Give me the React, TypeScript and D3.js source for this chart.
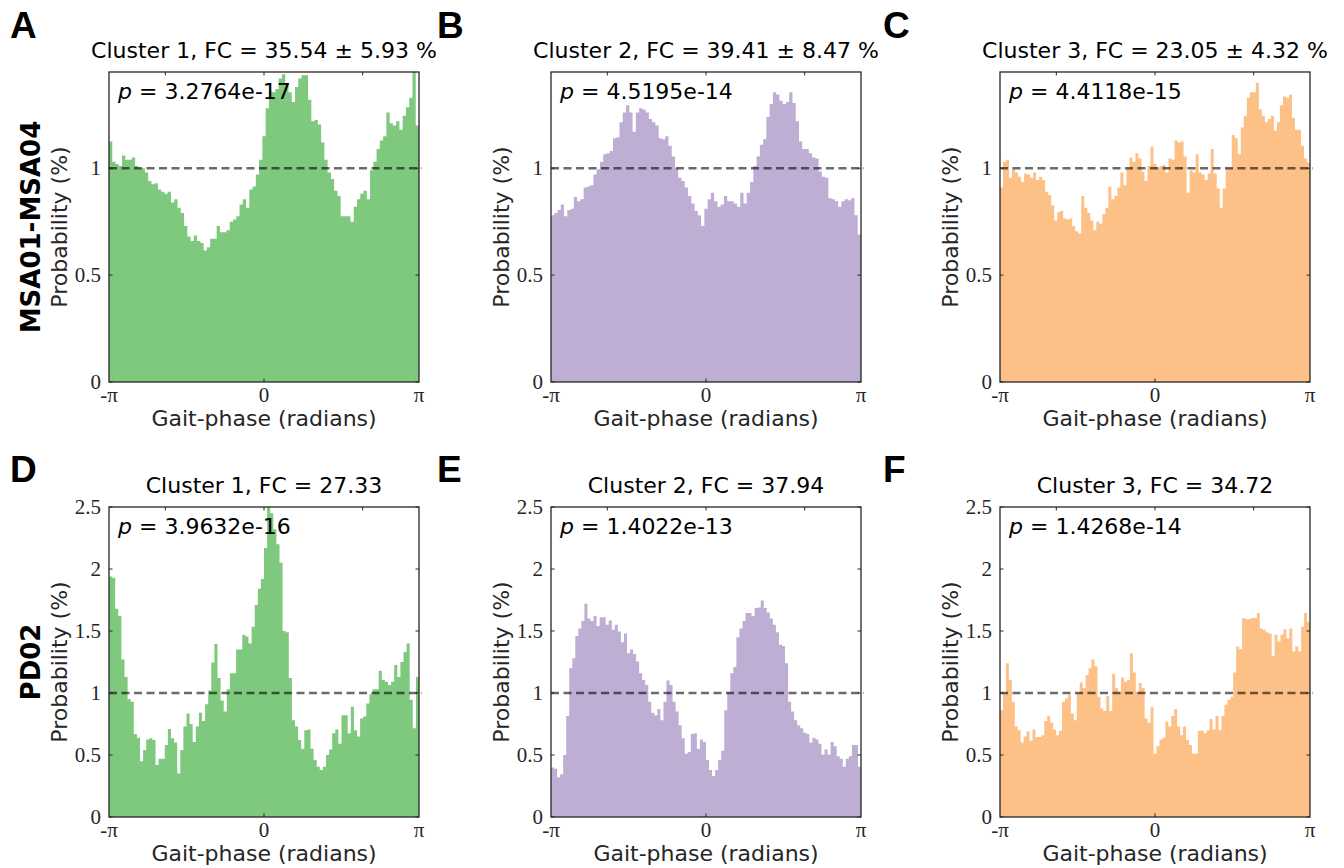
import React, { useEffect, useRef } from 'react';
import * as d3 from 'd3';

// bar heights (probability %), left (-pi) to right (pi)
const dataA = [1.125, 1.03, 1.02, 1.01, 1.06, 1.04, 1.04, 1.05, 1.01, 1.0, 1.0, 0.98, 0.94, 0.925, 0.93, 0.9, 0.89, 0.88, 0.89, 0.84, 0.855, 0.815, 0.79, 0.73, 0.68, 0.66, 0.685, 0.66, 0.65, 0.615, 0.63, 0.67, 0.67, 0.73, 0.7, 0.7, 0.71, 0.75, 0.76, 0.775, 0.83, 0.855, 0.815, 0.9, 0.915, 0.97, 1.04, 1.15, 1.28, 1.36, 1.355, 1.37, 1.42, 1.44, 1.395, 1.355, 1.31, 1.38, 1.42, 1.435, 1.435, 1.32, 1.22, 1.225, 1.205, 1.12, 1.04, 0.98, 0.95, 0.895, 0.87, 0.775, 0.775, 0.775, 0.75, 0.82, 0.855, 0.88, 0.895, 0.855, 0.99, 1.03, 1.09, 1.13, 1.15, 1.26, 1.21, 1.2, 1.22, 1.18, 1.245, 1.285, 1.33, 1.45, 1.2];
const dataB = [0.78, 0.79, 0.805, 0.83, 0.775, 0.805, 0.81, 0.865, 0.845, 0.855, 0.91, 0.915, 0.92, 0.97, 0.995, 1.03, 1.065, 1.07, 1.08, 1.14, 1.145, 1.215, 1.26, 1.295, 1.26, 1.17, 1.26, 1.28, 1.275, 1.26, 1.23, 1.215, 1.2, 1.14, 1.135, 1.15, 1.105, 1.055, 1.0, 0.955, 0.94, 0.91, 0.87, 0.835, 0.8, 0.78, 0.73, 0.81, 0.855, 0.885, 0.845, 0.82, 0.83, 0.87, 0.845, 0.845, 0.835, 0.82, 0.885, 0.835, 0.885, 0.935, 1.01, 1.055, 1.11, 1.135, 1.24, 1.3, 1.355, 1.345, 1.315, 1.3, 1.31, 1.355, 1.305, 1.22, 1.125, 1.09, 1.09, 1.07, 1.05, 1.045, 0.985, 0.96, 0.955, 0.86, 0.855, 0.845, 0.82, 0.845, 0.855, 0.85, 0.86, 0.78, 0.69];
const dataC = [0.91, 1.03, 1.04, 0.955, 0.995, 0.98, 0.96, 0.935, 0.975, 0.97, 0.955, 0.98, 0.945, 0.96, 0.945, 0.89, 0.875, 0.825, 0.755, 0.795, 0.8, 0.765, 0.76, 0.765, 0.73, 0.705, 0.695, 0.87, 0.815, 0.79, 0.755, 0.71, 0.75, 0.74, 0.785, 0.815, 0.915, 0.855, 0.87, 0.91, 0.98, 0.92, 1.0, 1.05, 1.03, 1.07, 1.045, 0.985, 0.94, 1.01, 1.1, 1.02, 1.005, 1.01, 1.015, 0.98, 1.045, 1.04, 1.13, 1.12, 1.125, 1.055, 0.885, 0.99, 0.98, 1.065, 0.98, 0.97, 0.945, 0.975, 1.09, 0.975, 0.905, 0.815, 0.905, 1.0, 1.0, 1.155, 1.14, 1.065, 1.19, 1.245, 1.33, 1.355, 1.355, 1.4, 1.275, 1.245, 1.215, 1.23, 1.245, 1.175, 1.215, 1.295, 1.335, 1.33, 1.345, 1.235, 1.18, 1.18, 1.105, 1.045, 1.025];
const dataD = [1.94, 1.93, 1.68, 1.62, 1.27, 1.13, 0.95, 0.93, 0.67, 0.64, 0.45, 0.54, 0.625, 0.635, 0.62, 0.42, 0.47, 0.47, 0.58, 0.71, 0.635, 0.6, 0.35, 0.54, 0.73, 0.835, 0.75, 0.605, 0.73, 0.84, 0.775, 0.91, 1.02, 1.245, 1.395, 1.12, 0.94, 0.85, 1.03, 1.16, 1.16, 1.35, 1.35, 1.47, 1.455, 1.4, 1.535, 1.71, 1.84, 1.92, 2.17, 2.55, 2.45, 2.32, 2.2, 2.05, 1.5, 1.49, 1.12, 0.78, 0.73, 0.62, 0.55, 0.7, 0.705, 0.55, 0.46, 0.405, 0.38, 0.405, 0.5, 0.545, 0.675, 0.705, 0.59, 0.82, 0.82, 0.675, 0.89, 0.7, 0.65, 0.795, 0.81, 0.915, 0.99, 1.03, 1.03, 1.18, 1.105, 1.09, 1.065, 1.09, 1.225, 1.13, 1.25, 1.33, 1.4, 0.945, 0.715, 1.13];
const dataE = [0.4, 0.39, 0.32, 0.345, 0.5, 0.815, 1.2, 1.28, 1.46, 1.52, 1.58, 1.72, 1.6, 1.58, 1.62, 1.54, 1.61, 1.61, 1.55, 1.585, 1.51, 1.55, 1.495, 1.41, 1.48, 1.32, 1.35, 1.315, 1.255, 1.16, 1.105, 1.065, 0.93, 0.84, 0.82, 0.87, 0.78, 0.93, 1.1, 1.065, 0.93, 0.85, 0.74, 0.635, 0.51, 0.525, 0.67, 0.675, 0.55, 0.625, 0.605, 0.46, 0.38, 0.33, 0.38, 0.46, 0.535, 0.86, 1.01, 1.16, 1.21, 1.45, 1.52, 1.58, 1.645, 1.645, 1.62, 1.685, 1.69, 1.745, 1.685, 1.65, 1.6, 1.55, 1.49, 1.39, 1.38, 1.24, 0.93, 0.85, 0.78, 0.74, 0.715, 0.68, 0.67, 0.6, 0.64, 0.625, 0.59, 0.505, 0.545, 0.505, 0.605, 0.57, 0.49, 0.47, 0.405, 0.47, 0.49, 0.58, 0.58, 0.405];
const dataF = [0.86, 1.0, 1.24, 1.105, 0.93, 0.73, 0.7, 0.6, 0.65, 0.69, 0.615, 0.705, 0.645, 0.645, 0.66, 0.775, 0.815, 0.76, 0.705, 0.66, 0.695, 0.93, 0.955, 0.985, 0.835, 0.78, 1.0, 1.085, 1.04, 1.145, 1.2, 1.27, 1.215, 0.97, 0.875, 0.855, 0.975, 0.855, 1.155, 1.04, 1.01, 1.125, 1.09, 1.105, 1.32, 1.165, 1.01, 1.08, 1.04, 0.795, 0.76, 0.885, 0.51, 0.57, 0.625, 0.64, 0.77, 0.73, 0.815, 0.87, 0.73, 0.66, 0.73, 0.62, 0.58, 0.51, 0.51, 0.695, 0.695, 0.675, 0.7, 0.79, 0.705, 0.815, 0.7, 0.815, 0.905, 0.945, 0.97, 1.165, 1.375, 1.355, 1.605, 1.595, 1.595, 1.605, 1.605, 1.645, 1.52, 1.51, 1.49, 1.48, 1.3, 1.47, 1.415, 1.47, 1.515, 1.44, 1.52, 1.335, 1.375, 1.335, 1.535, 1.645, 1.575];

const titles = [
  'Cluster 1, FC = 35.54 ± 5.93 %',
  'Cluster 2, FC = 39.41 ± 8.47 %',
  'Cluster 3, FC = 23.05 ± 4.32 %',
  'Cluster 1, FC = 27.33',
  'Cluster 2, FC = 37.94',
  'Cluster 3, FC = 34.72',
];
const pValues = ['3.2764e-17', '4.5195e-14', '4.4118e-15', '3.9632e-16', '1.4022e-13', '1.4268e-14'];
const letters = ['A', 'B', 'C', 'D', 'E', 'F'];
const rowLabels = ['MSA01-MSA04', 'PD02'];
const clusterColors = ['#7fc97f', '#beaed4', '#fdc086'];
const yMaxByRow = [1.45, 2.5];
const yTicksByRow = [[0, 0.5, 1], [0, 0.5, 1, 1.5, 2, 2.5]];
const xTickLabels = ['-π', '0', 'π'];

const SANS = 'DejaVu Sans, Verdana, sans-serif';
const SERIF = 'Liberation Serif, Times New Roman, serif';

const App = () => {
  const ref = useRef(null);

  useEffect(() => {
    const svg = d3.select(ref.current);
    svg.selectAll('*').remove();

    const W = 310, H = 310;
    const colLeft = [109, 551, 1000];
    const rowTop = [72, 507];
    const allData = [dataA, dataB, dataC, dataD, dataE, dataF];

    allData.forEach((data, k) => {
      const row = Math.floor(k / 3), col = k % 3;
      const left = colLeft[col], top = rowTop[row];
      const g = svg.append('g').attr('transform', `translate(${left},${top})`);

      const x = d3.scaleLinear().domain([-Math.PI, Math.PI]).range([0, W]);
      const y = d3.scaleLinear().domain([0, yMaxByRow[row]]).range([H, 0]);
      const step = (2 * Math.PI) / data.length;

      const clipId = `clip-${k}`;
      g.append('clipPath').attr('id', clipId)
        .append('rect').attr('width', W).attr('height', H);

      // histogram as one stepped area (no seams between bins)
      const bins = data.map((v, i) => ({ x0: -Math.PI + i * step, v }));
      bins.push({ x0: Math.PI, v: data[data.length - 1] });
      const area = d3.area()
        .curve(d3.curveStepAfter)
        .x(d => x(d.x0))
        .y0(y(0))
        .y1(d => y(d.v));
      g.append('path')
        .attr('clip-path', `url(#${clipId})`)
        .attr('d', area(bins))
        .attr('fill', clusterColors[col]);

      // chance level
      g.append('line')
        .attr('x1', 0).attr('x2', W + 3)
        .attr('y1', y(1)).attr('y2', y(1))
        .attr('stroke', '#000').attr('stroke-opacity', 0.58)
        .attr('stroke-width', 2.6).attr('stroke-dasharray', '8 4.5');

      // box
      g.append('rect').attr('width', W).attr('height', H)
        .attr('fill', 'none').attr('stroke', '#262626').attr('stroke-width', 1.3);

      // inward ticks
      const tl = 3.5;
      yTicksByRow[row].forEach(t => {
        g.append('line').attr('x1', 0).attr('x2', tl).attr('y1', y(t)).attr('y2', y(t)).attr('stroke', '#262626');
        g.append('line').attr('x1', W - tl).attr('x2', W).attr('y1', y(t)).attr('y2', y(t)).attr('stroke', '#262626');
        g.append('text')
          .attr('x', -8).attr('y', y(t) + 6.5)
          .attr('text-anchor', 'end')
          .style('font-family', SERIF).style('font-size', '21px').attr('fill', '#262626')
          .text(t === 0 ? '0' : String(t));
      });
      [-2, 0, 2].forEach(t => {
        g.append('line').attr('x1', x(t)).attr('x2', x(t)).attr('y1', 0).attr('y2', tl).attr('stroke', '#262626');
      });
      g.append('line').attr('x1', x(0)).attr('x2', x(0)).attr('y1', H - tl).attr('y2', H).attr('stroke', '#262626');

      [-Math.PI, 0, Math.PI].forEach((t, i) => {
        g.append('text')
          .attr('x', x(t)).attr('y', H + 20)
          .attr('text-anchor', 'middle')
          .style('font-family', SERIF).style('font-size', '21px').attr('fill', '#262626')
          .text(xTickLabels[i]);
      });

      // axis labels
      g.append('text')
        .attr('x', W / 2).attr('y', H + 44)
        .attr('text-anchor', 'middle')
        .style('font-family', SANS).style('font-size', '22px').attr('fill', '#262626')
        .text('Gait-phase (radians)');
      g.append('text')
        .attr('transform', `translate(-42,${H / 2}) rotate(-90)`)
        .attr('text-anchor', 'middle')
        .style('font-family', SANS).style('font-size', '22px').attr('fill', '#262626')
        .text('Probability (%)');

      // title
      g.append('text')
        .attr('x', W / 2).attr('y', -14)
        .attr('text-anchor', 'middle')
        .style('font-family', SANS).style('font-size', '22px').attr('fill', '#000')
        .text(titles[k]);

      // p value
      const pt = g.append('text')
        .attr('x', 9).attr('y', 27)
        .style('font-family', SANS).style('font-size', '22px').attr('fill', '#000');
      pt.append('tspan').style('font-style', 'italic').text('p');
      pt.append('tspan').text(` = ${pValues[k]}`);

      // panel letter
      svg.append('text')
        .attr('x', [10, 437, 883][col]).attr('y', [38, 482][row])
        .style('font-family', 'Liberation Sans, Arial, sans-serif')
        .style('font-size', '37px').style('font-weight', 'bold').attr('fill', '#000')
        .text(letters[k]);
    });

    // row labels
    [227, 662].forEach((cy, r) => {
      svg.append('text')
        .attr('transform', `translate(40,${cy}) rotate(-90)`)
        .attr('text-anchor', 'middle')
        .style('font-family', SANS).style('font-size', '26px').style('font-weight', 'bold')
        .attr('fill', '#000')
        .text(rowLabels[r]);
    });
  }, []);

  return (
    <svg ref={ref} width={1344} height={868}
      style={{ position: 'absolute', left: 0, top: 0, background: '#fff' }} />
  );
};

export default App;
